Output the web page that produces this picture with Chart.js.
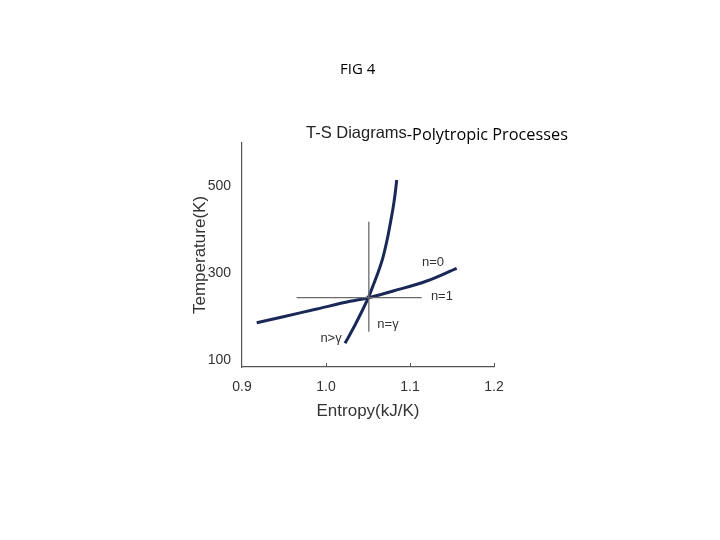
<!DOCTYPE html>
<html>
<head>
<meta charset="utf-8">
<script src="https://cdn.jsdelivr.net/npm/chart.js@4"></script>
<style>
  html, body { margin: 0; padding: 0; background: #fff; }
  #wrap { width: 720px; height: 540px; }
</style>
</head>
<body>
<div id="wrap"><canvas id="chart" width="720" height="540"></canvas></div>
<script>
// values
const isobarS = [0.9175, 0.9492, 0.9889, 1.0286, 1.0504, 1.0801, 1.1199, 1.1556];
const isobarT = [186.8, 200.6, 218.3, 236.0, 244.3, 259.7, 282.7, 311.9];

const steepS = [1.0226, 1.0325, 1.0425, 1.0504, 1.0571, 1.0623, 1.0675, 1.0723, 1.0762, 1.0798, 1.0821, 1.0842];
const steepT = [139.5, 174.0, 212.1, 244.3, 277.4, 304.1, 334.9, 373.1, 411.5, 449.9, 480.4, 514.9];

const isothermS = [0.965, 1.114];
const isothermT = [244.3, 244.3];

const isentropS = [1.051, 1.051];
const isentropT = [166, 419];

const xTicks = [0.9, 1.0, 1.1, 1.2];
const yTicks = [100, 300, 500];

const curveLabels = [
  { text: 'n=0', s: 1.1274, T: 326 },
  { text: 'n=1', s: 1.138, T: 248 },
  { text: 'n=\u03B3', s: 1.0738, T: 184 },
  { text: 'n>\u03B3', s: 1.006, T: 150 }
];

const toPoints = (xs, ys) => xs.map((x, i) => ({ x: x, y: ys[i] }));

const navy = '#1a2858';
const grey = '#6b6b6b';
const sans = '"Liberation Sans", Arial, sans-serif';

const textPlugin = {
  id: 'figText',
  afterDraw(chart) {
    const ctx = chart.ctx;
    const xs = chart.scales.x, ys = chart.scales.y;
    ctx.save();
    // figure caption
    ctx.fillStyle = '#000';
    ctx.font = '15px "Open Sans", sans-serif';
    ctx.textBaseline = 'alphabetic';
    ctx.textAlign = 'left';
    ctx.fillText('FIG 4', 340, 74);
    // title, two fonts
    ctx.font = '16.5px ' + sans;
    ctx.fillStyle = '#222';
    const part1 = 'T-S Diagrams';
    ctx.fillText(part1, 306, 138);
    const w = ctx.measureText(part1).width;
    ctx.font = '16.3px "Open Sans", sans-serif';
    ctx.fillStyle = '#000';
    ctx.fillText('-Polytropic Processes', 306 + w, 140);
    // curve labels
    ctx.font = '13px ' + sans;
    ctx.fillStyle = '#333';
    ctx.textAlign = 'center';
    ctx.textBaseline = 'middle';
    curveLabels.forEach(l => {
      ctx.fillText(l.text, xs.getPixelForValue(l.s), ys.getPixelForValue(l.T));
    });
    // small inward tick marks on the x axis
    ctx.strokeStyle = '#555';
    ctx.lineWidth = 1;
    xTicks.slice(1).forEach(v => {
      const px = Math.round(xs.getPixelForValue(v)) + 0.5;
      ctx.beginPath();
      ctx.moveTo(px, ys.bottom);
      ctx.lineTo(px, ys.bottom - 4);
      ctx.stroke();
    });
    ctx.restore();
  }
};

new Chart(document.getElementById('chart'), {
  type: 'scatter',
  data: {
    datasets: [
      {
        label: 'n=1',
        data: toPoints(isothermS, isothermT),
        showLine: true,
        borderColor: grey,
        borderWidth: 1.3,
        pointRadius: 0
      },
      {
        label: 'n=gamma',
        data: toPoints(isentropS, isentropT),
        showLine: true,
        borderColor: grey,
        borderWidth: 1.3,
        pointRadius: 0
      },
      {
        label: 'n=0',
        data: toPoints(isobarS, isobarT),
        showLine: true,
        borderColor: navy,
        borderWidth: 3,
        pointRadius: 0,
        tension: 0.35
      },
      {
        label: 'n>gamma',
        data: toPoints(steepS, steepT),
        showLine: true,
        borderColor: navy,
        borderWidth: 3,
        pointRadius: 0,
        tension: 0.35
      }
    ]
  },
  options: {
    responsive: false,
    animation: false,
    layout: { padding: { left: 186, right: 226, top: 143, bottom: 113 } },
    plugins: {
      legend: { display: false },
      tooltip: { enabled: false }
    },
    scales: {
      x: {
        type: 'linear',
        min: 0.9,
        max: 1.2,
        afterFit: s => { s.height = 60; },
        afterBuildTicks: s => { s.ticks = xTicks.map(v => ({ value: v })); },
        grid: { display: false, drawTicks: false },
        border: { display: true, color: '#555', width: 1.2 },
        ticks: {
          padding: 12,
          color: '#333',
          font: { family: sans, size: 14 },
          callback: v => v.toFixed(1)
        },
        title: {
          display: true,
          text: 'Entropy(kJ/K)',
          color: '#333',
          padding: { top: 0, bottom: 5 },
          font: { family: sans, size: 17 }
        }
      },
      y: {
        type: 'linear',
        min: 85,
        max: 600,
        afterFit: s => { s.width = 56; },
        afterBuildTicks: s => { s.ticks = yTicks.map(v => ({ value: v })); },
        grid: { display: false, drawTicks: false },
        border: { display: true, color: '#555', width: 1.2 },
        ticks: {
          padding: 11,
          color: '#333',
          font: { family: sans, size: 14 }
        },
        title: {
          display: true,
          text: 'Temperature(K)',
          color: '#333',
          padding: { top: 4, bottom: 0 },
          font: { family: sans, size: 17 }
        }
      }
    }
  },
  plugins: [textPlugin]
});
</script>
</body>
</html>
